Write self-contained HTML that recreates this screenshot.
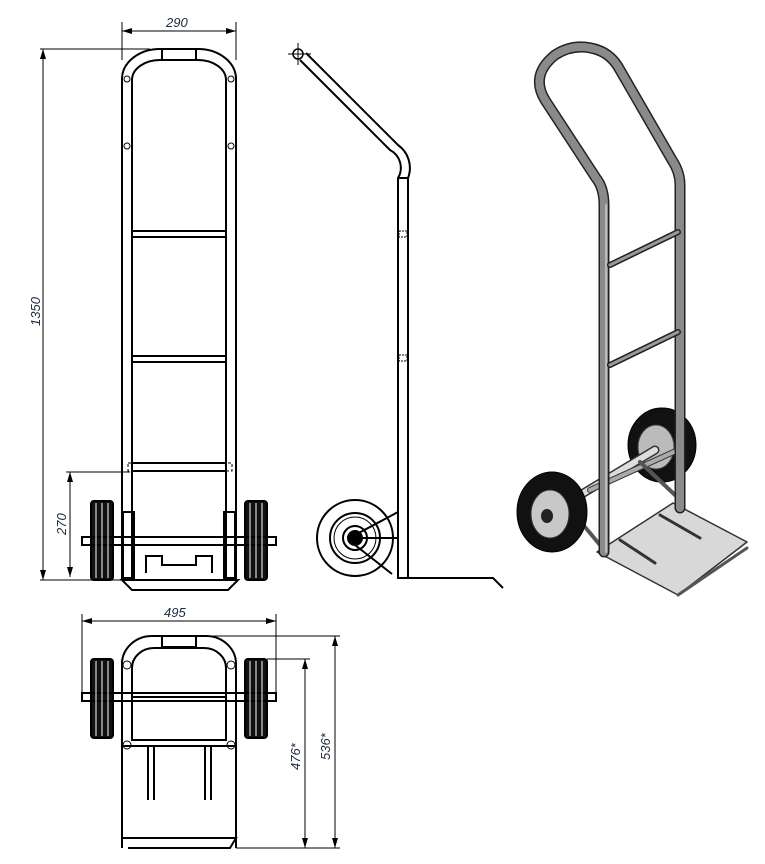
<!DOCTYPE html>
<html><head><meta charset="utf-8"><style>
html,body{margin:0;padding:0;background:#fff;}
svg{display:block}
text{font-family:"Liberation Sans",sans-serif;font-style:italic;font-size:13px;fill:#1a2a40}
</style></head><body>
<svg width="765" height="864" viewBox="0 0 765 864" xmlns="http://www.w3.org/2000/svg">
<defs>
<marker id="a" viewBox="0 0 10 6" refX="10" refY="3" markerWidth="10" markerHeight="6" orient="auto-start-reverse"><path d="M0,0L10,3L0,6z" fill="#000"/></marker>
</defs>
<g fill="none" stroke="#000" stroke-width="1">
<!-- FRONT VIEW dims -->
<line x1="122" y1="22" x2="122" y2="60"/><line x1="236" y1="22" x2="236" y2="60"/>
<line x1="122" y1="31" x2="236" y2="31" marker-start="url(#a)" marker-end="url(#a)"/>
<line x1="40" y1="49" x2="150" y2="49"/>
<line x1="43" y1="49" x2="43" y2="580" marker-start="url(#a)" marker-end="url(#a)"/>
<line x1="40" y1="580" x2="122" y2="580"/>
<line x1="66" y1="472" x2="130" y2="472"/>
<line x1="70" y1="472" x2="70" y2="577" marker-start="url(#a)" marker-end="url(#a)"/>
<!-- frame -->
<g stroke-width="2">
<path d="M122,580 L122,78 A38,30 0 0 1 160,49 L198,49 A38,30 0 0 1 236,78 L236,580"/>
<path d="M132,580 L132,80 A28,20 0 0 1 160,60 L198,60 A28,20 0 0 1 226,80 L226,580"/>
<rect x="162" y="49" width="34" height="11"/>
<line x1="132" y1="231" x2="226" y2="231"/><line x1="132" y1="237" x2="226" y2="237"/>
<line x1="132" y1="356" x2="226" y2="356"/><line x1="132" y1="362" x2="226" y2="362"/>
<line x1="132" y1="463" x2="226" y2="463"/><line x1="132" y1="471" x2="226" y2="471"/>
</g>
<rect x="128" y="463" width="104" height="8" stroke-dasharray="3 2"/>
<circle cx="127" cy="79" r="3"/><circle cx="231" cy="79" r="3"/>
<circle cx="127" cy="146" r="3"/><circle cx="231" cy="146" r="3"/>
<!-- wheels front -->
<g stroke-width="2">
<rect x="91" y="501" width="22" height="79" rx="3" fill="#111"/>
<rect x="245" y="501" width="22" height="79" rx="3" fill="#111"/>
<rect x="82" y="537" width="194" height="8"/>
<rect x="123" y="512" width="11" height="66"/><rect x="224" y="512" width="11" height="66"/>
<path d="M122,580 L238,580 L228,590 L132,590 Z"/>
<path d="M146,573 L146,556 L162,556 L162,565 L196,565 L196,556 L212,556 L212,573"/>
</g>
<g stroke="#fff" stroke-width="1"><line x1="96" y1="503" x2="96" y2="578"/><line x1="102" y1="503" x2="102" y2="578"/><line x1="108" y1="503" x2="108" y2="578"/><line x1="250" y1="503" x2="250" y2="578"/><line x1="256" y1="503" x2="256" y2="578"/><line x1="262" y1="503" x2="262" y2="578"/></g>

<!-- SIDE VIEW -->
<g stroke-width="2">
<path d="M300,60 L390,150 A20,20 0 0 1 398,178 L398,578 L493,578 L503,588"/>
<path d="M306,53 L398,145 A28,28 0 0 1 408,178 L408,578"/>
<line x1="398" y1="178" x2="408" y2="178"/>
<circle cx="355" cy="538" r="38"/>
<circle cx="355" cy="538" r="25"/>
<circle cx="355" cy="538" r="21" stroke-width="1"/>
<circle cx="355" cy="538" r="12"/>
<circle cx="355" cy="538" r="7" fill="#000"/>
<line x1="355" y1="535" x2="398" y2="512"/>
<line x1="355" y1="545" x2="392" y2="574"/>
<line x1="355" y1="538" x2="398" y2="538"/>
</g>
<circle cx="298" cy="54" r="5" stroke-width="1.5"/>
<line x1="288" y1="54" x2="311" y2="54"/><line x1="298" y1="43" x2="298" y2="65"/>
<rect x="399" y="231" width="8" height="6" stroke-dasharray="2 1"/>
<rect x="399" y="355" width="8" height="6" stroke-dasharray="2 1"/>

<!-- TOP VIEW -->
<line x1="82" y1="614" x2="82" y2="697"/><line x1="276" y1="614" x2="276" y2="697"/>
<line x1="82" y1="621" x2="276" y2="621" marker-start="url(#a)" marker-end="url(#a)"/>
<line x1="196" y1="636" x2="340" y2="636"/>
<line x1="267" y1="659" x2="310" y2="659"/>
<line x1="236" y1="848" x2="340" y2="848"/>
<line x1="305" y1="659" x2="305" y2="848" marker-start="url(#a)" marker-end="url(#a)"/>
<line x1="335" y1="636" x2="335" y2="848" marker-start="url(#a)" marker-end="url(#a)"/>
<g stroke-width="2">
<path d="M122,848 L122,665 A30,28 0 0 1 152,636 L206,636 A30,28 0 0 1 236,665 L236,848"/>
<path d="M132,697 L132,668 A22,20 0 0 1 154,648 L204,648 A22,20 0 0 1 226,668 L226,697"/>
<rect x="162" y="636" width="34" height="11"/>
<rect x="91" y="659" width="22" height="79" rx="3" fill="#111"/>
<rect x="245" y="659" width="22" height="79" rx="3" fill="#111"/>
<rect x="82" y="693" width="194" height="8"/>
<rect x="132" y="697" width="94" height="43"/>
<line x1="122" y1="746" x2="236" y2="746"/>
<line x1="148" y1="746" x2="148" y2="800"/><line x1="154" y1="746" x2="154" y2="800"/>
<line x1="205" y1="746" x2="205" y2="800"/><line x1="211" y1="746" x2="211" y2="800"/>
<path d="M122,838 L236,838 L230,848 L128,848"/>
</g>
<circle cx="127" cy="665" r="4"/><circle cx="231" cy="665" r="4"/>
<circle cx="127" cy="745" r="4"/><circle cx="231" cy="745" r="4"/>
<g stroke="#fff" stroke-width="1"><line x1="96" y1="661" x2="96" y2="736"/><line x1="102" y1="661" x2="102" y2="736"/><line x1="108" y1="661" x2="108" y2="736"/><line x1="250" y1="661" x2="250" y2="736"/><line x1="256" y1="661" x2="256" y2="736"/><line x1="262" y1="661" x2="262" y2="736"/></g>
</g>
<text x="166" y="27">290</text>
<text x="164" y="617">495</text>
<text transform="translate(40,326) rotate(-90)">1350</text>
<text transform="translate(66,535) rotate(-90)">270</text>
<text transform="translate(300,770) rotate(-90)">476*</text>
<text transform="translate(330,760) rotate(-90)">536*</text>

<!-- ISOMETRIC -->
<g fill="none" stroke-linecap="round" stroke-linejoin="round">
<!-- back wheel -->
<ellipse cx="662" cy="445" rx="34" ry="37" fill="#111" stroke="#000"/>
<ellipse cx="656" cy="447" rx="18" ry="22" fill="#bbb" stroke="#444"/>
<!-- axle/braces -->
<path d="M552,512 L655,450" stroke="#333" stroke-width="9"/>
<path d="M552,512 L655,450" stroke="#ddd" stroke-width="6"/>
<path d="M590,490 L678,450" stroke="#333" stroke-width="6"/>
<path d="M590,490 L678,450" stroke="#aaa" stroke-width="4"/>
<path d="M575,515 L600,545 M640,462 L675,495" stroke="#555" stroke-width="4"/>
<!-- plate -->
<polygon points="597,552 673,503 747,542 678,595" fill="#d8d8d8" stroke="#333" stroke-width="1.5"/>
<path d="M678,595 L747,548" stroke="#555" stroke-width="3"/>
<path d="M620,540 L655,563 M660,515 L700,538" stroke="#333" stroke-width="3"/>
<!-- front wheel -->
<ellipse cx="552" cy="512" rx="35" ry="40" fill="#111" stroke="#000"/>
<ellipse cx="550" cy="514" rx="19" ry="24" fill="#c8c8c8" stroke="#333"/>
<ellipse cx="547" cy="516" rx="6" ry="7" fill="#222"/>
<!-- handle -->
<path d="M604,552 L604,205 Q604,188 596,178 L545,100 Q530,75 555,55 Q575,42 598,50 Q612,55 620,70 L672,160 Q680,172 680,185 L680,508" stroke="#222" stroke-width="11"/>
<path d="M604,552 L604,205 Q604,188 596,178 L545,100 Q530,75 555,55 Q575,42 598,50 Q612,55 620,70 L672,160 Q680,172 680,185 L680,508" stroke="#8a8a8a" stroke-width="8"/>
<path d="M606,552 L606,205" stroke="#bbb" stroke-width="2"/>
<path d="M610,265 L678,232 M610,365 L678,332" stroke="#222" stroke-width="6"/>
<path d="M610,265 L678,232 M610,365 L678,332" stroke="#999" stroke-width="3"/>
</g>
</svg>
</body></html>
